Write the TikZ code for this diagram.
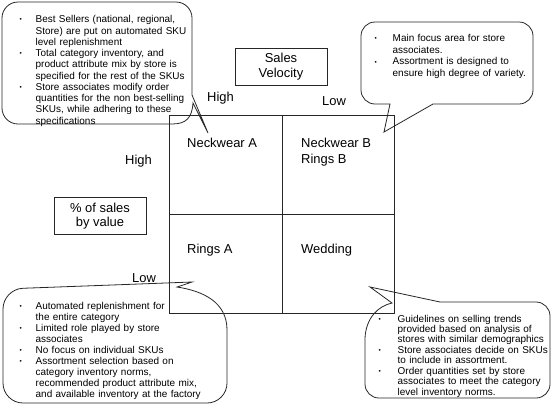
\documentclass[tikz,border=0pt]{standalone}
\usepackage{fontspec}
\setmainfont{Liberation Sans}
\usepackage{tikz}
\usetikzlibrary{positioning}

\newcommand{\bitem}[2][16bp]{\par\hangindent=#1\hangafter=1\noindent\makebox[#1][l]{\raisebox{0.8bp}{\fontsize{6.5}{7}\selectfont\textbullet}}#2\par}

\begin{document}
\begin{tikzpicture}[x=1bp,y=-1bp]
        \tikzstyle{every node}+=[inner sep=0pt]
        \tikzstyle{frame}=[draw=black!85, line width=0.8bp]
        \tikzstyle{cell}=[frame, minimum width=112.5bp, minimum height=99bp, anchor=north west]
        \tikzstyle{axisbox}=[frame, minimum width=92bp, minimum height=37bp, align=center, font=\fontsize{13}{14.5}\selectfont]
        \tikzstyle{lbl}=[anchor=base west, font=\fontsize{13}{15}\selectfont]
        \tikzstyle{callout}=[draw=black!85, line width=0.8bp]
        \tikzstyle{note}=[anchor=north west, text width=230bp, font=\fontsize{10}{11.3}\selectfont]
        \useasboundingbox (0,0) rectangle (553,408);
        % the matrix
        \node[cell] (na) at (169,115) {};
        \node[cell] (nb) at (281.5,115) {};
        \node[cell] (ra) at (169,214) {};
        \node[cell] (wd) at (281.5,214) {};
        \node[lbl] (lna) at (187,147) {Neckwear A};
        \node[lbl] (lnb) at (301,147) {Neckwear B};
        \node[lbl] (lrb) at (301,163) {Rings B};
        \node[lbl] (lra) at (187,253) {Rings A};
        \node[lbl] (lwd) at (301,253) {Wedding};
        % axes
        \node[axisbox] (velocity) at (281,66.5) {Sales\\Velocity};
        \node[axisbox] (share) at (100,216) {\% of sales\\by value};
        \node[lbl] (vhigh) at (207,101) {High};
        \node[lbl] (vlow) at (322,105) {Low};
        \node[lbl] (shigh) at (125,164) {High};
        \node[lbl] (slow) at (132,282) {Low};
        % callout tips
        \coordinate (tipna) at (208,133);
        \coordinate (tipnb) at (384,132);
        \coordinate (tipra) at (192,282);
        \coordinate (tipwd) at (370,287);
        % callouts
        \draw[callout] (tipna) -- (193,103) .. controls (192,118) and (186,124) .. (172,124) [rounded corners=16bp] -- (100,124) -- (2,124) -- (2,2) -- (192,2) -- (192,50) [sharp corners] -- (192,95) -- cycle;
        \draw[callout] (tipnb) -- (390,104) -- (380,104) [rounded corners=14bp] -- (361,104) -- (361,22) -- (533,22) -- (533,104) -- (460,104) [sharp corners] -- (433,104) -- cycle;
        \draw[callout] (tipra) -- (177,287) .. controls (203,291) and (227,302) .. (227,330) [rounded corners=20bp] -- (227,360) -- (227,403) -- (3,403) -- (3,289) -- (60,286.9) [sharp corners] -- (120,284.7) -- cycle;
        \draw[callout] (tipwd) -- (440,302) -- (460,302) [rounded corners=14bp] -- (550,302) -- (550,398) -- (365,398) -- (365,350) [sharp corners] -- (365,338) .. controls (366,318) and (378,306) .. (392,303) -- cycle;
        % callout texts
        \node[note] (txtna) at (19.5,11.3) {%
          \bitem{Best Sellers (national, regional,\newline Store) are put on automated SKU\newline level replenishment}%
          \bitem{Total category inventory, and\newline product attribute mix by store is\newline specified for the rest of the SKUs}%
          \bitem{Store associates modify order\newline quantities for the non best-selling\newline SKUs, while adhering to these\newline specifications}};
        \node[note, font=\fontsize{10}{11.7}\selectfont] (txtnb) at (374.5,29.7) {%
          \bitem[18bp]{Main focus area for store\newline associates.}%
          \bitem[18bp]{Assortment is designed to\newline ensure high degree of variety.}};
        \node[note, font=\fontsize{10}{11.1}\selectfont] (txtra) at (19.5,298) {%
          \bitem{Automated replenishment for\newline the entire category}%
          \bitem{Limited role played by store\newline associates}%
          \bitem{No focus on individual SKUs}%
          \bitem{Assortment selection based on\newline category inventory norms,\newline recommended product attribute mix,\newline and available inventory at the factory}};
        \node[note, font=\fontsize{10}{10.5}\selectfont] (txtwd) at (378.5,311.4) {%
          \bitem[19bp]{Guidelines on selling trends\newline provided based on analysis of\newline stores with similar demographics}%
          \bitem[19bp]{Store associates decide on SKUs\newline to include in assortment.}%
          \bitem[19bp]{Order quantities set by store\newline associates to meet the category\newline level inventory norms.}};
\end{tikzpicture}
\end{document}
